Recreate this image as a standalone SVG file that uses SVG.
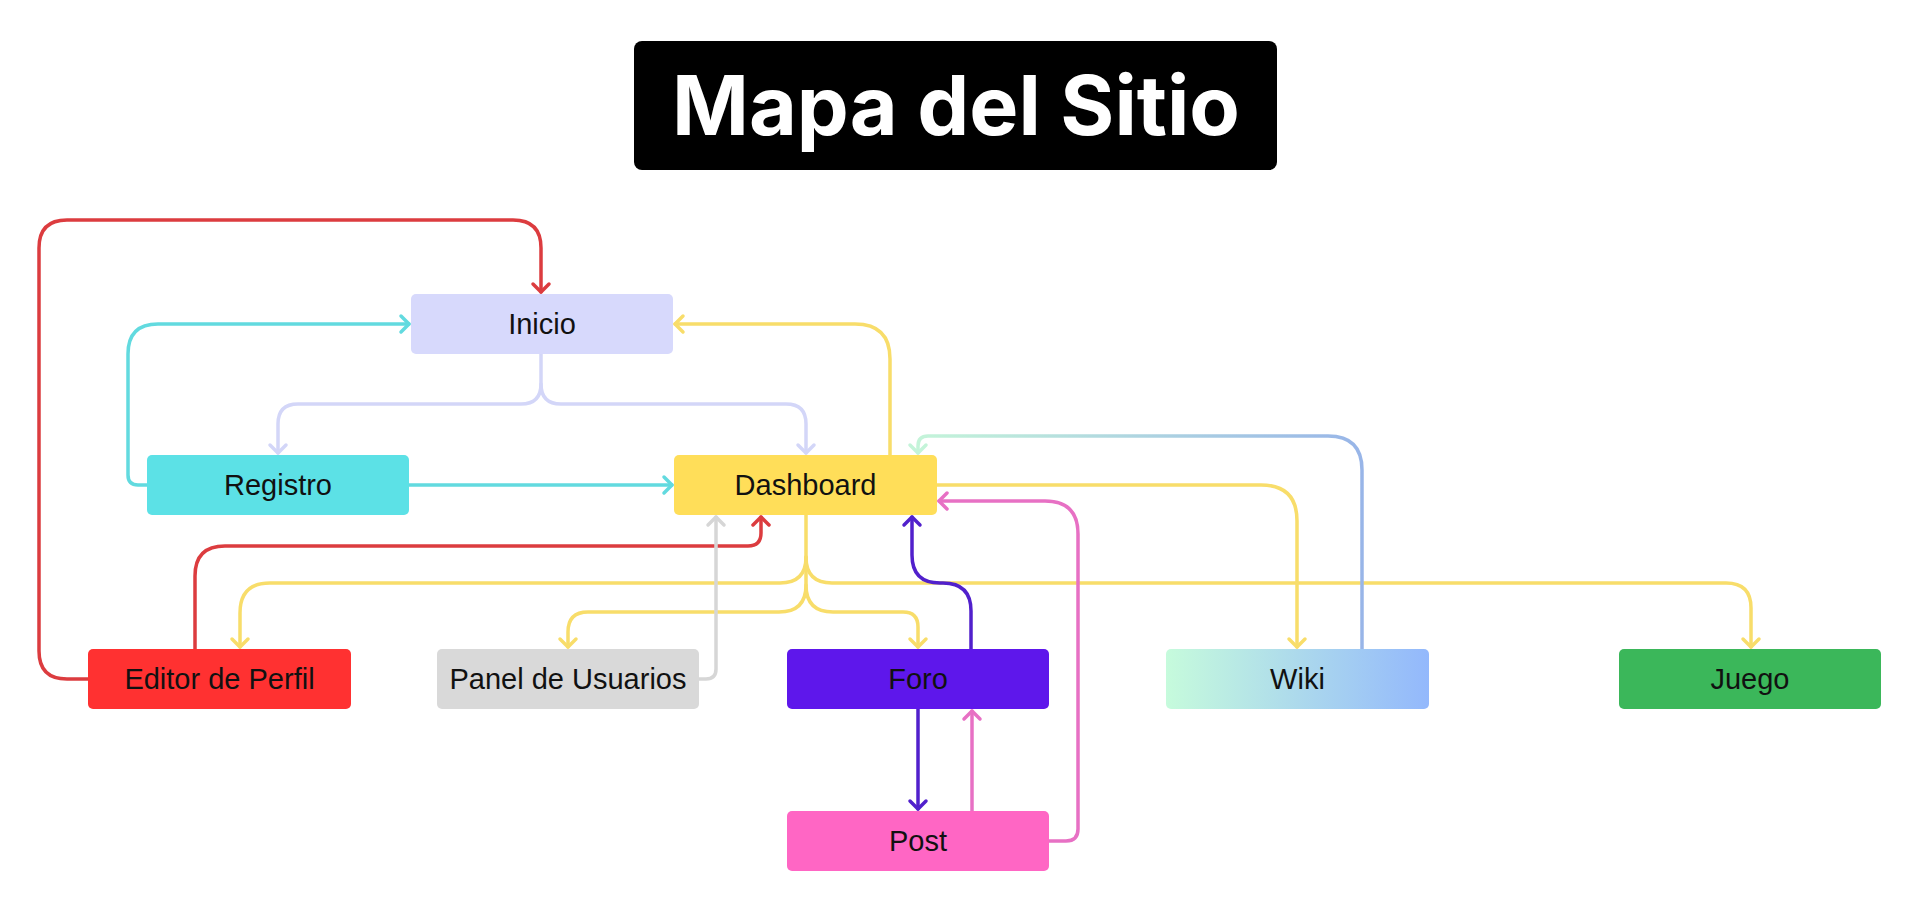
<svg xmlns="http://www.w3.org/2000/svg" width="1920" height="902" viewBox="0 0 1920 902">
<defs>
<style>
.node text{font-family:"Liberation Sans",Arial,sans-serif;font-size:29px;fill:#111;text-anchor:middle}
.c{fill:none;stroke-width:3.5;stroke-linecap:round;stroke-linejoin:round}
.red{stroke:#dc3c3f;marker-end:url(#m-red)}
.cyan{stroke:#62dadf;marker-end:url(#m-cyan)}
.lav{stroke:#d3d6f8;marker-end:url(#m-lav)}
.yel{stroke:#f8dd6a;marker-end:url(#m-yel)}
.gry{stroke:#d6d6d6;marker-end:url(#m-gry)}
.pur{stroke:#5120cc;marker-end:url(#m-pur)}
.pnk{stroke:#e770c4;marker-end:url(#m-pnk)}
.wik{stroke:url(#g-wikiline);marker-end:url(#m-wik)}
</style>
<linearGradient id="g-wiki" x1="0" y1="0" x2="1" y2="0">
<stop offset="0" stop-color="#c6fbdc"/>
<stop offset="1" stop-color="#93b8fc"/>
</linearGradient>
<linearGradient id="g-wikiline" gradientUnits="userSpaceOnUse" x1="1362" y1="0" x2="918" y2="0">
<stop offset="0" stop-color="#98b5e8"/>
<stop offset="1" stop-color="#c4f4d9"/>
</linearGradient>
<marker id="m-red" markerUnits="userSpaceOnUse" markerWidth="24" markerHeight="24" refX="0" refY="0" viewBox="-12 -12 24 24" orient="auto"><path d="M-8,-8 L0,0 L-8,8" fill="none" stroke="#dc3c3f" stroke-width="3.5" stroke-linecap="round" stroke-linejoin="round"/></marker>
<marker id="m-cyan" markerUnits="userSpaceOnUse" markerWidth="24" markerHeight="24" refX="0" refY="0" viewBox="-12 -12 24 24" orient="auto"><path d="M-8,-8 L0,0 L-8,8" fill="none" stroke="#62dadf" stroke-width="3.5" stroke-linecap="round" stroke-linejoin="round"/></marker>
<marker id="m-lav" markerUnits="userSpaceOnUse" markerWidth="24" markerHeight="24" refX="0" refY="0" viewBox="-12 -12 24 24" orient="auto"><path d="M-8,-8 L0,0 L-8,8" fill="none" stroke="#d3d6f8" stroke-width="3.5" stroke-linecap="round" stroke-linejoin="round"/></marker>
<marker id="m-yel" markerUnits="userSpaceOnUse" markerWidth="24" markerHeight="24" refX="0" refY="0" viewBox="-12 -12 24 24" orient="auto"><path d="M-8,-8 L0,0 L-8,8" fill="none" stroke="#f8dd6a" stroke-width="3.5" stroke-linecap="round" stroke-linejoin="round"/></marker>
<marker id="m-gry" markerUnits="userSpaceOnUse" markerWidth="24" markerHeight="24" refX="0" refY="0" viewBox="-12 -12 24 24" orient="auto"><path d="M-8,-8 L0,0 L-8,8" fill="none" stroke="#d6d6d6" stroke-width="3.5" stroke-linecap="round" stroke-linejoin="round"/></marker>
<marker id="m-pur" markerUnits="userSpaceOnUse" markerWidth="24" markerHeight="24" refX="0" refY="0" viewBox="-12 -12 24 24" orient="auto"><path d="M-8,-8 L0,0 L-8,8" fill="none" stroke="#5120cc" stroke-width="3.5" stroke-linecap="round" stroke-linejoin="round"/></marker>
<marker id="m-pnk" markerUnits="userSpaceOnUse" markerWidth="24" markerHeight="24" refX="0" refY="0" viewBox="-12 -12 24 24" orient="auto"><path d="M-8,-8 L0,0 L-8,8" fill="none" stroke="#e770c4" stroke-width="3.5" stroke-linecap="round" stroke-linejoin="round"/></marker>
<marker id="m-wik" markerUnits="userSpaceOnUse" markerWidth="24" markerHeight="24" refX="0" refY="0" viewBox="-12 -12 24 24" orient="auto"><path d="M-8,-8 L0,0 L-8,8" fill="none" stroke="#c4f4d9" stroke-width="3.5" stroke-linecap="round" stroke-linejoin="round"/></marker>
</defs>
<rect width="1920" height="902" fill="#ffffff"/>

<g id="title">
<rect x="634" y="41" width="643" height="129" rx="8" fill="#000"/>
<text x="956" y="135" font-family="Inter,'Liberation Sans',sans-serif" font-weight="700" font-size="82" fill="#fff" text-anchor="middle" textLength="568" lengthAdjust="spacingAndGlyphs">Mapa del Sitio</text>
</g>

<g id="connectors">
<path class="c red" d="M88,679 H67 Q39,679 39,651 V248 Q39,220 67,220 H513 Q541,220 541,248 V292"/>
<path class="c red" d="M195,649 V576 Q195,546 225,546 H748 Q761,546 761,533 V517"/>
<path class="c cyan" d="M147,485 H138 Q128,485 128,475 V354 Q128,324 158,324 H409"/>
<path class="c cyan" d="M409,485 H672"/>
<path class="c lav" d="M541,354 V384 Q541,404 521,404 H298 Q278,404 278,424 V453"/>
<path class="c lav" d="M541,384 Q541,404 561,404 H786 Q806,404 806,424 V453"/>
<path class="c yel" d="M890,455 V359 Q890,324 855,324 H675"/>
<path class="c yel" d="M937,485 H1261 Q1297,485 1297,521 V647"/>
<path class="c yel" d="M806,515 V557 Q806,583 780,583 H270 Q240,583 240,613 V647"/>
<path class="c yel" d="M806,557 Q806,583 832,583 H1726 Q1751,583 1751,608 V647"/>
<path class="c yel" d="M806,557 V585 Q806,612 779,612 H588 Q568,612 568,632 V647"/>
<path class="c yel" d="M806,585 Q806,612 833,612 H903 Q918,612 918,627 V647"/>
<path class="c gry" d="M699,679 H706 Q716,679 716,669 V517"/>
<path class="c pur" d="M971,649 V611 Q971,583 943,583 H940 Q912,583 912,555 V517"/>
<path class="c pur" d="M918,709 V809"/>
<path class="c pnk" d="M972,811 V711"/>
<path class="c pnk" d="M1049,841 H1066 Q1078,841 1078,829 V534 Q1078,501 1045,501 H939"/>
<path class="c wik" d="M1362,649 V470 Q1362,436 1328,436 H928 Q918,436 918,446 V453"/>
</g>

<g id="node-inicio" class="node">
<rect x="411" y="294" width="262" height="60" rx="5" fill="#d7d9fc"/>
<text x="542" y="334">Inicio</text>
</g>
<g id="node-registro" class="node">
<rect x="147" y="455" width="262" height="60" rx="5" fill="#5ce1e6"/>
<text x="278" y="495">Registro</text>
</g>
<g id="node-dashboard" class="node">
<rect x="674" y="455" width="263" height="60" rx="5" fill="#ffde59"/>
<text x="805.5" y="495">Dashboard</text>
</g>
<g id="node-editor" class="node">
<rect x="88" y="649" width="263" height="60" rx="5" fill="#ff3131"/>
<text x="219.5" y="689">Editor de Perfil</text>
</g>
<g id="node-panel" class="node">
<rect x="437" y="649" width="262" height="60" rx="5" fill="#d9d9d9"/>
<text x="568" y="689">Panel de Usuarios</text>
</g>
<g id="node-foro" class="node">
<rect x="787" y="649" width="262" height="60" rx="5" fill="#5e17eb"/>
<text x="918" y="689">Foro</text>
</g>
<g id="node-wiki" class="node">
<rect x="1166" y="649" width="263" height="60" rx="5" fill="url(#g-wiki)"/>
<text x="1297.5" y="689">Wiki</text>
</g>
<g id="node-juego" class="node">
<rect x="1619" y="649" width="262" height="60" rx="5" fill="#3bb75a"/>
<text x="1750" y="689">Juego</text>
</g>
<g id="node-post" class="node">
<rect x="787" y="811" width="262" height="60" rx="5" fill="#ff66c4"/>
<text x="918" y="851">Post</text>
</g>
</svg>
